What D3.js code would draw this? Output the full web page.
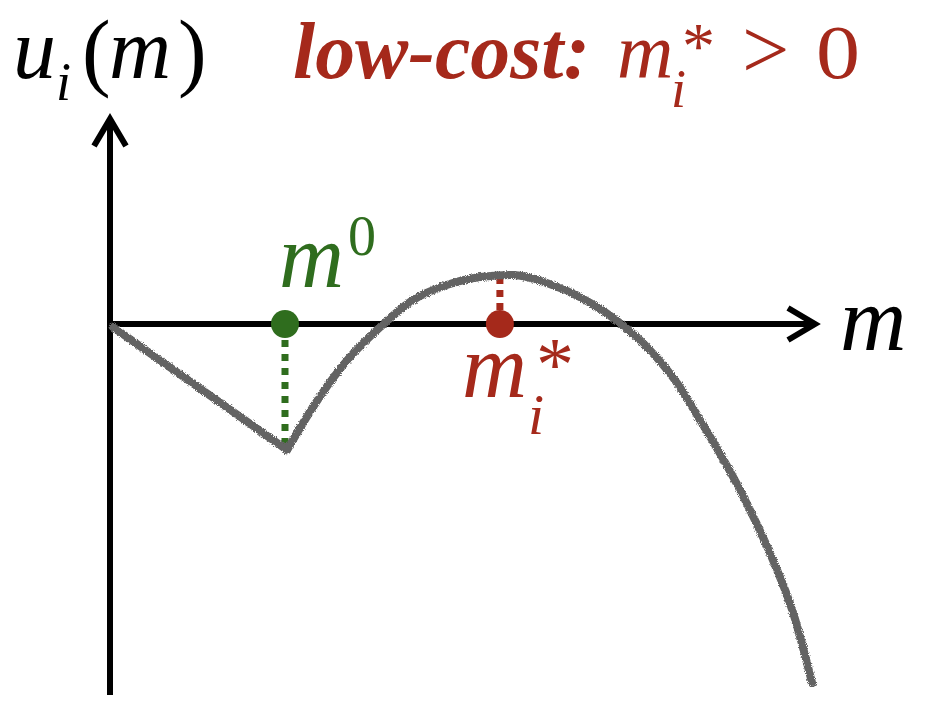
<!DOCTYPE html>
<html>
<head>
<meta charset="utf-8">
<script src="https://cdn.jsdelivr.net/npm/d3@7"></script>
<style>
  html, body { margin: 0; padding: 0; background: #fff; }
  svg { display: block; }
  text { font-family: "Liberation Serif", "Times New Roman", serif; }
</style>
</head>
<body>
<svg id="chart" width="934" height="714"></svg>
<script>
// ---- data (m, u(m)) ----
const linearPartM = [0.04, 2.53];
const linearPartU = [-0.06, -2.52];
const curvePartM = [2.53, 2.9, 3.39, 3.86, 4.33, 4.81, 5.29, 5.76, 6.24, 6.71, 7.19, 7.67, 8.1, 8.43, 9.0, 9.47, 9.76, 10.03];
const curvePartU = [-2.52, -1.66, -0.72, -0.06, 0.48, 0.78, 0.94, 0.98, 0.82, 0.54, 0.12, -0.46, -1.18, -1.92, -3.32, -4.72, -5.78, -7.18];
const m0 = 2.5;          // kink point m^0
const mStar = 5.57;      // optimum m_i^*
const uStar = 0.98;      // u at optimum
const uAtM0 = -2.46;

const RED = "#a5291b";
const GREEN = "#2f6d1e";
const GRAY = "#636363";

const svg = d3.select("#chart");
const x = d3.scaleLinear().domain([0, 10]).range([110, 810]);
const y = d3.scaleLinear().domain([-7.42, 4.06]).range([695, 121]);

// rough-pencil filter
const defs = svg.append("defs");
const f = defs.append("filter").attr("id", "rough").attr("x", "-5%").attr("y", "-5%").attr("width", "110%").attr("height", "110%");
f.append("feTurbulence").attr("type", "fractalNoise").attr("baseFrequency", 1.1).attr("numOctaves", 2).attr("seed", 3).attr("result", "noise");
f.append("feDisplacementMap").attr("in", "SourceGraphic").attr("in2", "noise").attr("scale", 4).attr("xChannelSelector", "R").attr("yChannelSelector", "G");

// axes
const axisW = 6;
const x0 = x(0), y0 = y(0);
svg.append("line").attr("x1", x0).attr("x2", 815).attr("y1", y0).attr("y2", y0)
  .attr("stroke", "#000").attr("stroke-width", axisW);
svg.append("path").attr("d", `M${788},${y0 - 16} L${815},${y0} L${788},${y0 + 16}`)
  .attr("fill", "none").attr("stroke", "#000").attr("stroke-width", axisW).attr("stroke-linejoin", "miter");
svg.append("line").attr("x1", x0).attr("x2", x0).attr("y1", 695).attr("y2", 120)
  .attr("stroke", "#000").attr("stroke-width", axisW);
svg.append("path").attr("d", `M${x0 - 16},${146} L${x0},${119} L${x0 + 16},${146}`)
  .attr("fill", "none").attr("stroke", "#000").attr("stroke-width", axisW).attr("stroke-linejoin", "miter");

// dashed guides
svg.append("line").attr("x1", x(m0)).attr("x2", x(m0)).attr("y1", y0 + 16).attr("y2", y(uAtM0) - 2)
  .attr("stroke", GREEN).attr("stroke-width", 7).attr("stroke-dasharray", "7 7");
svg.append("line").attr("x1", x(mStar)).attr("x2", x(mStar)).attr("y1", y0 - 14).attr("y2", y(uStar))
  .attr("stroke", RED).attr("stroke-width", 7).attr("stroke-dasharray", "7 6");

// curve
const lin = d3.line().x(d => x(d[0])).y(d => y(d[1])).curve(d3.curveLinear);
const smooth = d3.line().x(d => x(d[0])).y(d => y(d[1])).curve(d3.curveMonotoneX);
const g = svg.append("g").attr("filter", "url(#rough)");
g.append("path").attr("d", lin(linearPartM.map((m, i) => [m, linearPartU[i]])))
  .attr("fill", "none").attr("stroke", GRAY).attr("stroke-width", 8).attr("stroke-linecap", "round");
g.append("path").attr("d", smooth(curvePartM.map((m, i) => [m, curvePartU[i]])))
  .attr("fill", "none").attr("stroke", GRAY).attr("stroke-width", 8).attr("stroke-linecap", "round");

// dots
svg.append("circle").attr("cx", x(m0)).attr("cy", y0).attr("r", 14).attr("fill", GREEN);
svg.append("circle").attr("cx", x(mStar)).attr("cy", y0).attr("r", 14).attr("fill", RED);

// labels
function t(str, px, py, size, opts = {}) {
  const el = svg.append("text").attr("x", px).attr("y", py).attr("font-size", size)
    .attr("font-style", opts.italic === false ? "normal" : "italic")
    .attr("font-weight", opts.bold ? "bold" : "normal")
    .attr("fill", opts.fill || "#000").text(str);
  if (opts.len) el.attr("textLength", opts.len).attr("lengthAdjust", "spacingAndGlyphs");
  return el;
}
// title u_i(m)
t("u", 13, 78, 86);
t("i", 56, 100, 54);
t("(", 82, 80, 86, { italic: false });
t("m", 109, 78, 86);
t(")", 178, 80, 86, { italic: false });
// low-cost: m_i^* > 0
t("low-cost:", 293, 78, 80, { bold: true, fill: RED, len: 297 });
t("m", 617, 78, 78, { fill: RED });
t("*", 682, 68, 66, { fill: RED, italic: false });
t("i", 671, 107, 54, { fill: RED });
t(">", 742, 78, 84, { fill: RED, italic: false });
t("0", 816, 78, 76, { fill: RED, italic: false, len: 44 });

// m^0
t("m", 279, 287, 90, { fill: GREEN });
t("0", 348, 255, 56, { fill: GREEN, italic: false });
// m_i^*
t("m", 462, 397, 90, { fill: RED });
t("*", 536, 390, 76, { fill: RED, italic: false });
t("i", 528, 434, 58, { fill: RED });
// axis label
t("m", 840, 350, 92);
</script>
</body>
</html>
